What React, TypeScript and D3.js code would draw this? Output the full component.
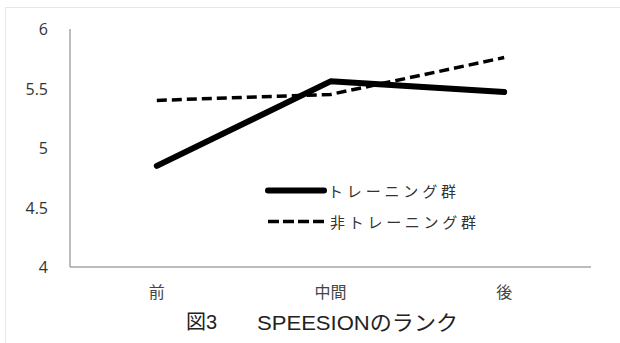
import React from "react";
import * as d3 from "d3";

const categories = ["前", "中間", "後"];
const trainingValues = [4.85, 5.56, 5.47];
const nonTrainingValues = [5.4, 5.45, 5.76];
const seriesNames = ["トレーニング群", "非トレーニング群"];
const yTicks = [4, 4.5, 5, 5.5, 6];
const figureLabel = "図3";
const title = "SPEESIONのランク";

const W = 620;
const H = 343;
const plot = { left: 70, right: 591, top: 29, bottom: 267 };

export default function App() {
  const x = d3
    .scalePoint<string>()
    .domain(categories)
    .range([plot.left, plot.right])
    .padding(0.5);
  const y = d3.scaleLinear().domain([4, 6]).range([plot.bottom, plot.top]);

  const line = d3
    .line<number>()
    .x((_, i) => x(categories[i]) as number)
    .y((d) => y(d));

  const font = "'Open Sans', 'Noto Sans CJK JP', sans-serif";
  const jpFont = "'Noto Sans CJK JP', sans-serif";
  const capFont = "'Liberation Sans', 'Noto Sans CJK JP', sans-serif";

  return (
    <svg
      width={W}
      height={H}
      style={{ position: "absolute", left: 0, top: 0, background: "#fff" }}
    >
      {/* outer frame */}
      <rect x={5.5} y={7.5} width={W + 10} height={H + 10} fill="none" stroke="#e6e6e6" />

      {/* axes */}
      <line x1={plot.left} x2={plot.left} y1={plot.top} y2={plot.bottom} stroke="#a6a6a6" strokeWidth={1.5} />
      <line x1={plot.left} x2={plot.right} y1={plot.bottom} y2={plot.bottom} stroke="#a6a6a6" strokeWidth={1.5} />

      {yTicks.map((t) => (
        <text
          key={t}
          x={48}
          y={y(t)}
          textAnchor="end"
          dominantBaseline="central"
          fontFamily={font}
          fontSize={16}
          fill="#333"
        >
          {t}
        </text>
      ))}

      {categories.map((c) => (
        <text
          key={c}
          x={x(c)}
          y={291}
          textAnchor="middle"
          dominantBaseline="central"
          fontFamily={jpFont}
          fontSize={16}
          fill="#444"
        >
          {c}
        </text>
      ))}

      {/* series */}
      <path
        d={line(nonTrainingValues) || ""}
        fill="none"
        stroke="#000"
        strokeWidth={3.5}
        strokeDasharray="10,5"
      />
      <path
        d={line(trainingValues) || ""}
        fill="none"
        stroke="#000"
        strokeWidth={6}
        strokeLinecap="round"
        strokeLinejoin="round"
      />

      {/* legend */}
      <line x1={268} x2={324} y1={190.5} y2={190.5} stroke="#000" strokeWidth={6} strokeLinecap="round" />
      <text
        x={328}
        y={190}
        dominantBaseline="central"
        fontFamily={jpFont}
        fontSize={15}
        textLength={128}
        lengthAdjust="spacing"
        fill="#333"
      >
        {seriesNames[0]}
      </text>
      <line x1={268} x2={324} y1={221.5} y2={221.5} stroke="#000" strokeWidth={3.5} strokeDasharray="11,4" />
      <text
        x={330}
        y={221}
        dominantBaseline="central"
        fontFamily={jpFont}
        fontSize={15}
        textLength={146}
        lengthAdjust="spacing"
        fill="#333"
      >
        {seriesNames[1]}
      </text>

      {/* caption */}
      <text x={186} y={322} dominantBaseline="central" fontFamily={capFont} fontSize={20} fill="#222">
        {figureLabel}
      </text>
      <text
        x={257}
        y={322}
        dominantBaseline="central"
        fontFamily={capFont}
        fontSize={21}
        textLength={201}
        lengthAdjust="spacingAndGlyphs"
        fill="#222"
      >
        {title}
      </text>
    </svg>
  );
}
